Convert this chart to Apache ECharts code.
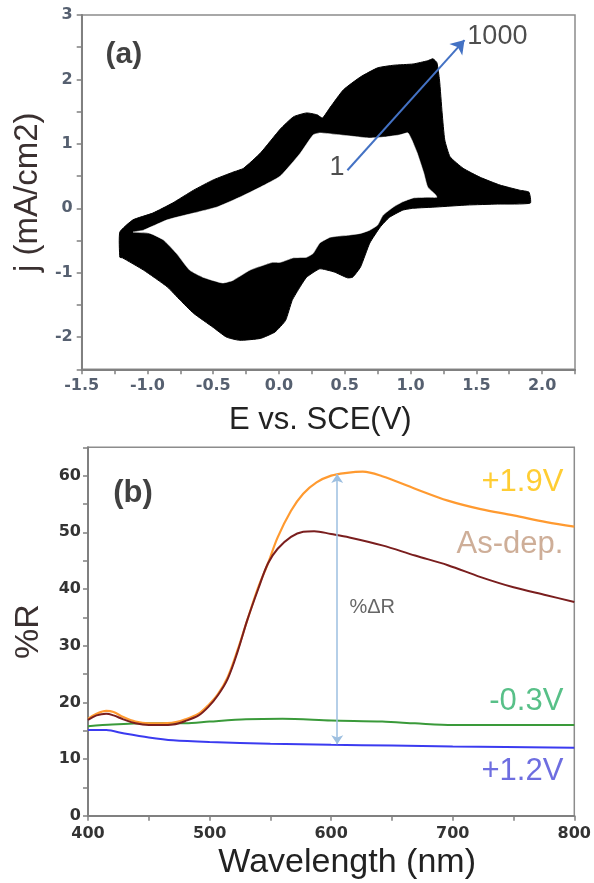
<!DOCTYPE html>
<html>
<head>
<meta charset="utf-8">
<script src="https://cdn.jsdelivr.net/npm/echarts@6/dist/echarts.min.js"></script>
<style>html,body{margin:0;padding:0;background:#fff;}#c{width:594px;height:883px;}</style>
</head>
<body>
<div id="c"></div>
<script>
// ---------- Panel (a): cyclic voltammogram, 1000 cycles (band between cycles) ----------
const cvOuterE = [-1.21,-1.11,-0.96,-0.81,-0.65,-0.50,-0.35,-0.27,-0.14,0.01,0.11,0.21,0.29,0.33,0.39,0.49,0.62,0.75,0.87,1.02,1.13,1.17,1.20,1.22,1.24,1.26,1.30,1.40,1.53,1.68,1.83,1.90,1.91,1.66,1.43,1.20,1.02,0.94,0.84,0.77,0.69,0.62,0.56,0.52,0.42,0.31,0.21,0.16,0.10,0.05,-0.03,-0.14,-0.30,-0.40,-0.50,-0.65,-0.75,-0.85,-1.03,-1.19,-1.21];
const cvOuterJ = [-0.37,-0.18,-0.075,0.08,0.28,0.44,0.56,0.62,0.86,1.23,1.42,1.48,1.45,1.40,1.57,1.84,2.04,2.18,2.22,2.24,2.29,2.32,2.26,1.99,1.48,1.06,0.80,0.62,0.48,0.36,0.28,0.25,0.08,0.065,0.05,0.02,0.00,-0.03,-0.14,-0.29,-0.54,-0.91,-1.07,-1.08,-0.99,-0.94,-1.07,-1.22,-1.43,-1.74,-1.92,-2.02,-2.05,-2.00,-1.85,-1.63,-1.43,-1.22,-0.96,-0.77,-0.76];
const cvInnerE = [-1.11,-1.03,-0.85,-0.65,-0.47,-0.30,-0.14,0.01,0.16,0.26,0.31,0.46,0.59,0.69,0.82,0.92,0.98,1.01,1.05,1.10,1.13,1.19,1.20,1.13,1.02,0.94,0.87,0.79,0.75,0.69,0.62,0.52,0.39,0.31,0.26,0.21,0.11,0.01,-0.05,-0.22,-0.35,-0.43,-0.58,-0.68,-0.78,-0.88,-0.98];
const cvInnerJ = [-0.37,-0.34,-0.18,-0.075,0.02,0.17,0.33,0.50,0.85,1.14,1.17,1.14,1.11,1.09,1.11,1.14,1.17,1.06,0.86,0.55,0.33,0.21,0.17,0.17,0.16,0.10,0.02,-0.11,-0.26,-0.34,-0.39,-0.42,-0.45,-0.54,-0.70,-0.76,-0.77,-0.84,-0.84,-0.96,-1.12,-1.16,-1.07,-0.96,-0.70,-0.49,-0.39];
const cycleArrow = [[0.52, 0.59], [1.41, 2.61]];
const cycleLabels = ['1', '1000'];

// ---------- Panel (b): reflectance spectra ----------
const wlOrange = [400,407,415,421,429,439,450,469,480,491,499,507,515,523,531,540,548,556,567,577,588,600,613,626,642,669,696,723,750,777,800];
const rOrange  = [17.1,18.0,18.5,18.3,17.4,16.6,16.3,16.4,17.0,18.0,19.5,21.5,24.5,29.2,34.5,40.3,44.5,49.1,53.8,56.8,58.8,60.0,60.5,60.7,59.9,57.7,55.6,54.1,53.0,51.8,51.0];
const wlBrown  = [400,407,415,421,429,439,450,460,470,480,491,499,507,515,523,531,540,548,556,567,577,586,600,615,642,669,696,723,750,777,800];
const rBrown   = [16.9,17.7,18.0,17.7,17.0,16.3,16.0,16.0,16.1,16.7,17.7,19.2,21.3,24.2,28.9,34.5,40.0,44.5,47.1,49.2,50.1,50.2,49.7,49.1,47.7,45.9,44.2,42.1,40.3,38.9,37.7];
const wlGreen  = [400,420,450,480,500,530,560,600,642,669,700,750,800];
const rGreen   = [15.8,16.1,16.3,16.3,16.6,17.0,17.1,16.8,16.6,16.3,16.0,16.0,16.0];
const wlBlue   = [400,415,430,450,470,500,550,600,650,700,800];
const rBlue    = [15.1,15.1,14.5,13.8,13.3,13.0,12.7,12.5,12.4,12.2,12.0];
const deltaR   = [[605, 60.3], [605, 12.6]];
const seriesNames = ['+1.9V', 'As-dep.', '-0.3V', '+1.2V'];

// label anchors (data coordinates)
const anchorsA = {panel: [-1.18, 2.39], one: [0.44, 0.63], thousand: [1.66, 2.66]};
const anchorsB = {panel: [437, 56.8], s0: [791, 58.8], s1: [791, 47.9], s2: [791, 20.1], s3: [791, 7.8], delta: [615, 36.7]};

const zip = (a, b) => a.map((v, i) => [v, b[i]]);

const chart = echarts.init(document.getElementById('c'), null, {renderer: 'canvas'});
const axisGrey = '#808080';
const tickLabelA = {fontFamily: 'DejaVu Sans', fontSize: 16, fontWeight: 'bold', color: '#566070'};
const tickLabelB = {fontFamily: 'DejaVu Sans', fontSize: 16, fontWeight: 'bold', color: '#333333'};
const isMult = (v, m) => Math.abs(v / m - Math.round(v / m)) < 1e-6;
const axisLineStyle = {onZero: false, lineStyle: {color: axisGrey, width: 2}};

function textSeries(xi, yi, pos, text, style) {
  return {
    type: 'scatter', xAxisIndex: xi, yAxisIndex: yi, symbolSize: 1, z: 10,
    itemStyle: {color: 'rgba(0,0,0,0)'}, silent: true,
    data: [pos],
    label: Object.assign({show: true, position: 'inside', verticalAlign: 'middle', formatter: () => text}, style)
  };
}

const option = {
  animation: false,
  backgroundColor: '#fff',
  grid: [
    {left: 81.7, top: 15, width: 493.3, height: 354.3, show: true, borderColor: '#8c8c8c', borderWidth: 1.5},
    {left: 88, top: 447.3, width: 494, height: 368.4, show: true, borderColor: '#8c8c8c', borderWidth: 1.5}
  ],
  xAxis: [
    {gridIndex: 0, type: 'value', min: -1.5, max: 2.25, interval: 0.25,
     name: 'E vs. SCE(V)', nameLocation: 'middle', nameGap: 36,
     nameTextStyle: {fontFamily: 'Liberation Sans', fontSize: 31, color: '#222', padding: [0, 16, 0, 0]},
     axisLine: axisLineStyle,
     axisTick: {length: 5, lineStyle: {color: axisGrey, width: 1.5}},
     axisLabel: Object.assign({margin: 9, formatter: v => isMult(v, 0.5) ? v.toFixed(1) : ''}, tickLabelA),
     splitLine: {show: false}},
    {gridIndex: 1, type: 'value', min: 400, max: 800, interval: 50,
     name: 'Wavelength (nm)', nameLocation: 'middle', nameGap: 30,
     nameTextStyle: {fontFamily: 'Liberation Sans', fontSize: 34, color: '#222', padding: [0, 0, 0, 32]},
     axisLine: axisLineStyle,
     axisTick: {length: 5, lineStyle: {color: axisGrey, width: 1.5}},
     axisLabel: Object.assign({margin: 10, formatter: v => isMult(v, 100) ? String(v) : ''}, tickLabelB),
     splitLine: {show: false}}
  ],
  yAxis: [
    {gridIndex: 0, type: 'value', min: -2.5, max: 3, interval: 0.5,
     name: 'j (mA/cm2)', nameLocation: 'middle', nameGap: 36,
     nameTextStyle: {fontFamily: 'Liberation Sans', fontSize: 33, color: '#3a3030'},
     axisLine: axisLineStyle,
     axisTick: {length: 5, lineStyle: {color: axisGrey, width: 1.5}},
     axisLabel: Object.assign({margin: 9, formatter: v => isMult(v, 1) ? String(Math.round(v)) : ''}, tickLabelA),
     splitLine: {show: false}},
    {gridIndex: 1, type: 'value', min: 0, max: 65, interval: 5,
     name: '%R', nameLocation: 'middle', nameGap: 42,
     nameTextStyle: {fontFamily: 'Liberation Sans', fontSize: 34, color: '#3a3030'},
     axisLine: axisLineStyle,
     axisTick: {length: 5, lineStyle: {color: axisGrey, width: 1.5}},
     axisLabel: Object.assign({margin: 7, formatter: v => isMult(v, 10) ? String(v) : ''}, tickLabelB),
     splitLine: {show: false}}
  ],
  series: [
    {
      type: 'custom', xAxisIndex: 0, yAxisIndex: 0, silent: true, z: 2,
      data: [[0, 0]],
      renderItem: function (params, api) {
        const outer = cvOuterE.map((e, i) => api.coord([e, cvOuterJ[i]]));
        const inner = cvInnerE.map((e, i) => api.coord([e, cvInnerJ[i]]));
        return {type: 'group', children: [
          {type: 'polygon', shape: {points: outer, smooth: 0.15}, style: {fill: '#000', stroke: '#000', lineWidth: 1}},
          {type: 'polygon', shape: {points: inner, smooth: 0.15}, style: {fill: '#fff', stroke: '#fff', lineWidth: 0.5}}
        ]};
      }
    },
    {
      type: 'lines', coordinateSystem: 'cartesian2d', xAxisIndex: 0, yAxisIndex: 0, z: 5,
      symbol: ['none', 'arrow'], symbolSize: 13,
      lineStyle: {color: '#4472C4', width: 2, opacity: 1},
      data: [{coords: cycleArrow}]
    },
    textSeries(0, 0, anchorsA.panel, '(a)', {fontFamily: 'Liberation Sans', fontSize: 30, fontWeight: 'bold', color: '#111', align: 'center'}),
    textSeries(0, 0, anchorsA.one, cycleLabels[0], {fontFamily: 'Liberation Sans', fontSize: 27, color: '#222', align: 'center'}),
    textSeries(0, 0, anchorsA.thousand, cycleLabels[1], {fontFamily: 'Liberation Sans', fontSize: 27, color: '#222', align: 'center'}),

    {type: 'line', name: seriesNames[2], xAxisIndex: 1, yAxisIndex: 1, data: zip(wlGreen, rGreen), showSymbol: false, smooth: 0.3,
     lineStyle: {color: '#3a9a3a', width: 2}, z: 3},
    {type: 'line', name: seriesNames[3], xAxisIndex: 1, yAxisIndex: 1, data: zip(wlBlue, rBlue), showSymbol: false, smooth: 0.3,
     lineStyle: {color: '#3b3bf0', width: 2}, z: 3},
    {type: 'line', name: seriesNames[0], xAxisIndex: 1, yAxisIndex: 1, data: zip(wlOrange, rOrange), showSymbol: false, smooth: 0.35,
     lineStyle: {color: '#ff9a30', width: 2.2}, z: 3},
    {type: 'line', name: seriesNames[1], xAxisIndex: 1, yAxisIndex: 1, data: zip(wlBrown, rBrown), showSymbol: false, smooth: 0.35,
     lineStyle: {color: '#7a1e1e', width: 2}, z: 4},
    {
      type: 'lines', coordinateSystem: 'cartesian2d', xAxisIndex: 1, yAxisIndex: 1, z: 5,
      symbol: ['arrow', 'arrow'], symbolSize: 9,
      lineStyle: {color: '#9dbfe0', width: 1.5, opacity: 1},
      data: [{coords: deltaR}]
    },
    textSeries(1, 1, anchorsB.panel, '(b)', {fontFamily: 'Liberation Sans', fontSize: 31, fontWeight: 'bold', color: '#111', align: 'center'}),
    textSeries(1, 1, anchorsB.s0, seriesNames[0], {fontFamily: 'Liberation Sans', fontSize: 31, color: '#ffc000', align: 'right'}),
    textSeries(1, 1, anchorsB.s1, seriesNames[1], {fontFamily: 'Liberation Sans', fontSize: 31, color: '#c29a7e', align: 'right'}),
    textSeries(1, 1, anchorsB.s2, seriesNames[2], {fontFamily: 'Liberation Sans', fontSize: 31, color: '#2eb06a', align: 'right'}),
    textSeries(1, 1, anchorsB.s3, seriesNames[3], {fontFamily: 'Liberation Sans', fontSize: 31, color: '#4a4ad8', align: 'right'}),
    textSeries(1, 1, anchorsB.delta, '%ΔR', {fontFamily: 'Liberation Sans', fontSize: 20, color: '#404040', align: 'left'})
  ]
};
chart.setOption(option);
</script>
</body>
</html>
